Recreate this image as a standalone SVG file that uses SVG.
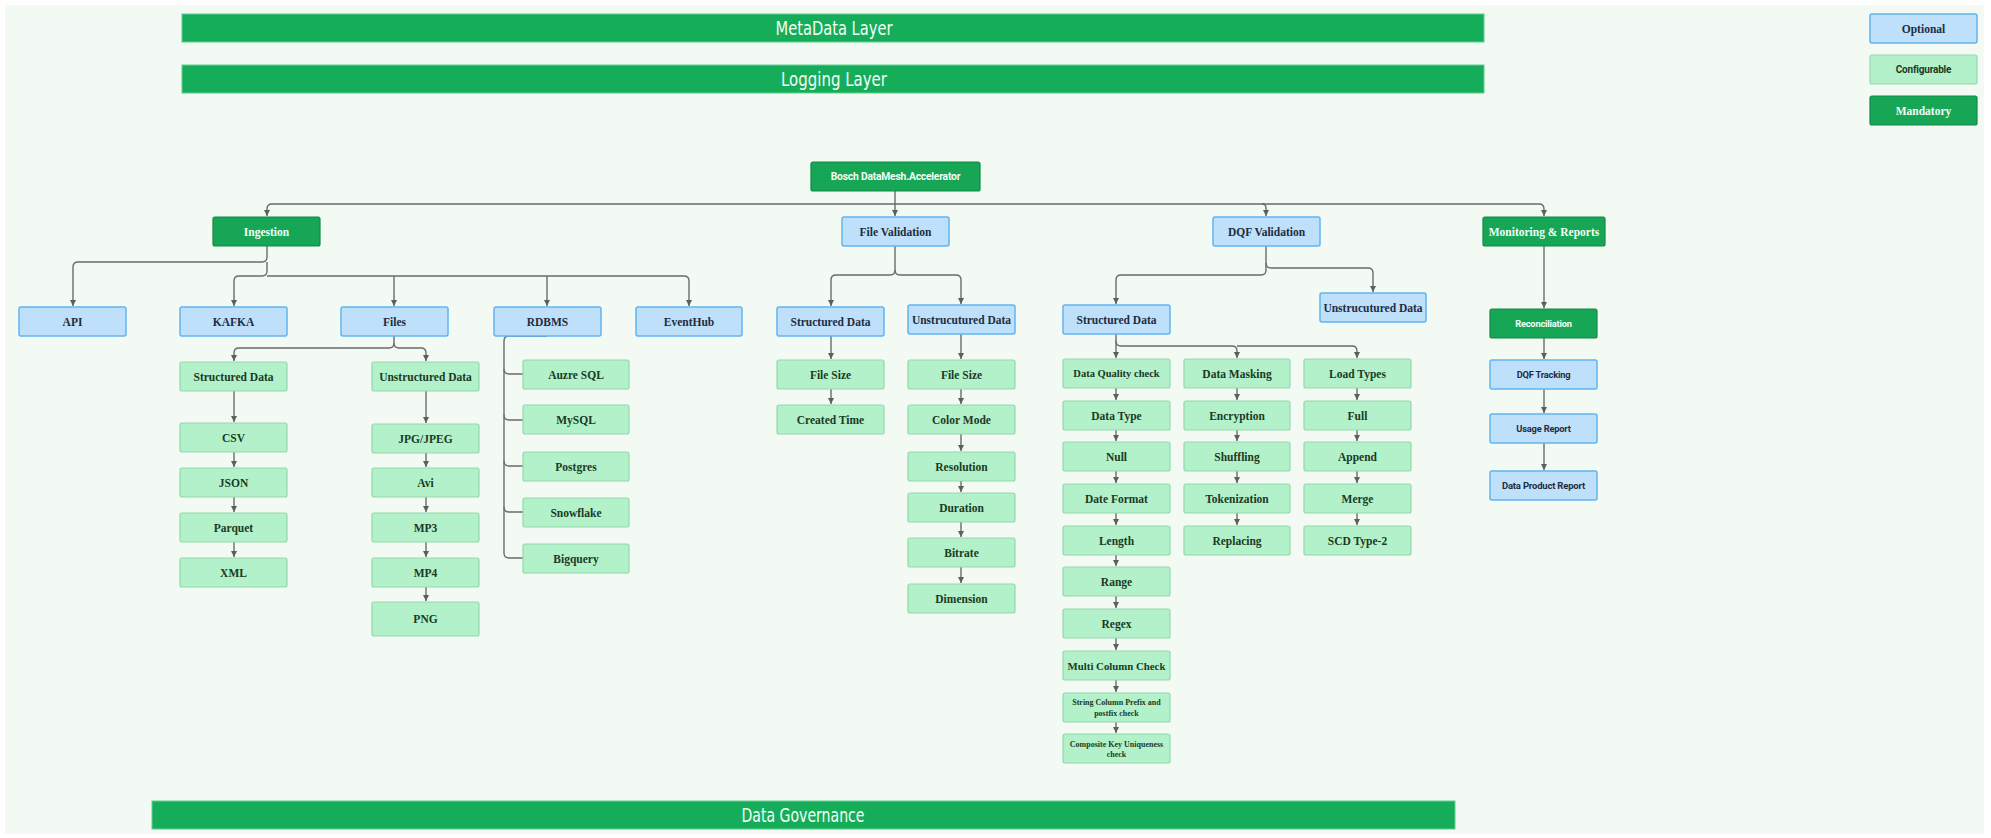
<svg xmlns="http://www.w3.org/2000/svg" width="1991" height="838" viewBox="0 0 1991 838">
<style>
.bar{fill:#16ad5a;stroke:#5cd08f;stroke-width:1}
.bt{font-family:"Liberation Sans Narrow","DejaVu Sans Condensed","Liberation Sans",sans-serif;font-size:20px;fill:#f2fff6;text-anchor:middle;dominant-baseline:central}
.man{fill:#17a656;stroke:#0f8a43;stroke-width:1.2}
.opt{fill:#bfe0fb;stroke:#62b4ef;stroke-width:1.5}
.cfg{fill:#b2f1c9;stroke:#93d9ac;stroke-width:1.2}
.t{font-family:"Liberation Serif","DejaVu Serif",serif;font-weight:700;font-size:11.5px;text-anchor:middle;dominant-baseline:central}
.s{font-family:Roboto,"Liberation Sans",sans-serif;font-weight:700;font-size:9.5px;text-anchor:middle;dominant-baseline:central;letter-spacing:-0.2px}
.w{fill:#f2fff5}
.b{fill:#1e2c40}
.g{fill:#1b3a25}
.c path{fill:none;stroke:#6b6b6b;stroke-width:1.4}
.c path.a{marker-end:url(#ah)}
</style>
<defs>
<marker id="ah" markerUnits="userSpaceOnUse" markerWidth="7" markerHeight="7" refX="6" refY="3.5" orient="auto">
<path d="M0,0.5 L6,3.5 L0,6.5 z" fill="#5e5e5e"/>
</marker>
</defs>
<rect x="0" y="0" width="1991" height="838" fill="#ffffff"/>
<rect x="5" y="5" width="1979" height="829" fill="#f3faf4"/>

<g id="metadata-layer"><rect class="bar" x="182" y="14" width="1302" height="28"/><text class="bt" x="834" y="28" textLength="117" lengthAdjust="spacingAndGlyphs">MetaData Layer</text></g>
<g id="logging-layer"><rect class="bar" x="182" y="65" width="1302" height="28"/><text class="bt" x="834" y="79" textLength="106" lengthAdjust="spacingAndGlyphs">Logging Layer</text></g>
<g id="data-governance"><rect class="bar" x="152" y="801" width="1303" height="28"/><text class="bt" x="803" y="815" textLength="123" lengthAdjust="spacingAndGlyphs">Data Governance</text></g>

<g id="legend-optional"><rect class="opt" x="1870" y="14" width="107" height="29" rx="2"/><text class="t b" x="1923.5" y="28.5">Optional</text></g>
<g id="legend-configurable"><rect class="cfg" x="1870" y="55" width="107" height="29" rx="2"/><text class="s g" x="1923.5" y="69.5" style="font-size:10px">Configurable</text></g>
<g id="legend-mandatory"><rect class="man" x="1870" y="96" width="107" height="29" rx="2"/><text class="t w" x="1923.5" y="110.5">Mandatory</text></g>

<g class="c" id="connectors">
<path class="a" d="M895 191 V216"/>
<path class="a" d="M895 204 H272 Q267 204 267 209 V216"/>
<path class="a" d="M895 204 H1539 Q1544 204 1544 209 V216"/>
<path class="a" d="M1262 204 Q1266 204 1266 208 V216"/>
<path class="a" d="M267 246 V257 Q267 262 262 262 H78 Q73 262 73 267 V306"/>
<path class="a" d="M267 262 V271 Q267 276 262 276 H239 Q234 276 234 281 V306"/>
<path class="a" d="M267 276 H684 Q689 276 689 281 V306"/>
<path class="a" d="M394 276 V306"/>
<path class="a" d="M547 276 V306"/>
<path class="a" d="M394 336 V343 Q394 348 389 348 H239 Q234 348 234 353 V361"/>
<path class="a" d="M394 343 Q394 348 399 348 H421 Q426 348 426 353 V361"/>
<path class="a" d="M234 391 V422"/>
<path class="a" d="M234 452 V467"/>
<path class="a" d="M234 497 V512"/>
<path class="a" d="M234 542 V557"/>
<path class="a" d="M426 391 V423"/>
<path class="a" d="M426 453 V467"/>
<path class="a" d="M426 497 V512"/>
<path class="a" d="M426 542 V557"/>
<path class="a" d="M426 587 V601"/>
<path d="M547 336 H509 Q504 336 504 341 V553 Q504 558 509 558 H523"/>
<path d="M504 369 Q504 374 509 374 H523"/>
<path d="M504 415 Q504 420 509 420 H523"/>
<path d="M504 461 Q504 466 509 466 H523"/>
<path d="M504 507 Q504 512 509 512 H523"/>
<path class="a" d="M895 246 V270 Q895 275 890 275 H836 Q831 275 831 280 V306"/>
<path class="a" d="M895 270 Q895 275 900 275 H956 Q961 275 961 280 V304"/>
<path class="a" d="M831 336 V359"/>
<path class="a" d="M831 389 V404"/>
<path class="a" d="M961 334 V359"/>
<path class="a" d="M961 389 V404"/>
<path class="a" d="M961 434 V451"/>
<path class="a" d="M961 480 V492"/>
<path class="a" d="M961 522 V537"/>
<path class="a" d="M961 567 V583"/>
<path class="a" d="M1266 246 V270 Q1266 275 1261 275 H1121 Q1116 275 1116 280 V304"/>
<path class="a" d="M1266 263 Q1266 268 1271 268 H1368 Q1373 268 1373 273 V292"/>
<path class="a" d="M1116 334 V358"/>
<path class="a" d="M1116 341 Q1116 346 1121 346 H1232 Q1237 346 1237 351 V358"/>
<path class="a" d="M1237 346 H1352 Q1357 346 1357 351 V358"/>
<path class="a" d="M1116 388 V400"/>
<path class="a" d="M1116 430 V441"/>
<path class="a" d="M1116 471 V483"/>
<path class="a" d="M1116 513 V525"/>
<path class="a" d="M1116 555 V566"/>
<path class="a" d="M1116 596 V608"/>
<path class="a" d="M1116 638 V650"/>
<path class="a" d="M1116 680 V692"/>
<path class="a" d="M1116 722 V733"/>
<path class="a" d="M1237 388 V400"/>
<path class="a" d="M1237 430 V441"/>
<path class="a" d="M1237 471 V483"/>
<path class="a" d="M1237 513 V525"/>
<path class="a" d="M1357 388 V400"/>
<path class="a" d="M1357 430 V441"/>
<path class="a" d="M1357 471 V483"/>
<path class="a" d="M1357 513 V525"/>
<path class="a" d="M1544 246 V308"/>
<path class="a" d="M1544 338 V359"/>
<path class="a" d="M1544 389 V413"/>
<path class="a" d="M1544 443 V470"/>
</g>

<g id="root"><rect class="man" x="811" y="162" width="169" height="29" rx="2"/><text class="s w" x="895.5" y="176.5" style="font-size:10.3px">Bosch DataMesh.Accelerator</text></g>

<g id="ingestion"><rect class="man" x="213" y="217" width="107" height="29" rx="2"/><text class="t w" x="266.5" y="231.5">Ingestion</text></g>
<g id="file-validation"><rect class="opt" x="842" y="217" width="107" height="29" rx="2"/><text class="t b" x="895.5" y="231.5">File Validation</text></g>
<g id="dqf-validation"><rect class="opt" x="1213" y="217" width="107" height="29" rx="2"/><text class="t b" x="1266.5" y="231.5">DQF Validation</text></g>
<g id="monitoring"><rect class="man" x="1483" y="217" width="122" height="29" rx="2"/><text class="t w" x="1544" y="231.5">Monitoring &amp; Reports</text></g>

<g id="api"><rect class="opt" x="19" y="307" width="107" height="29" rx="2"/><text class="t b" x="72.5" y="321.5">API</text></g>
<g id="kafka"><rect class="opt" x="180" y="307" width="107" height="29" rx="2"/><text class="t b" x="233.5" y="321.5">KAFKA</text></g>
<g id="files"><rect class="opt" x="341" y="307" width="107" height="29" rx="2"/><text class="t b" x="394.5" y="321.5">Files</text></g>
<g id="rdbms"><rect class="opt" x="494" y="307" width="107" height="29" rx="2"/><text class="t b" x="547.5" y="321.5">RDBMS</text></g>
<g id="eventhub"><rect class="opt" x="636" y="307" width="106" height="29" rx="2"/><text class="t b" x="689" y="321.5">EventHub</text></g>

<g id="files-structured"><rect class="cfg" x="180" y="362" width="107" height="29" rx="2"/><text class="t g" x="233.5" y="376.5">Structured Data</text></g>
<g id="files-unstructured"><rect class="cfg" x="372" y="362" width="107" height="29" rx="2"/><text class="t g" x="425.5" y="376.5">Unstructured Data</text></g>
<g id="csv"><rect class="cfg" x="180" y="423" width="107" height="29" rx="2"/><text class="t g" x="233.5" y="437.5">CSV</text></g>
<g id="json"><rect class="cfg" x="180" y="468" width="107" height="29" rx="2"/><text class="t g" x="233.5" y="482.5">JSON</text></g>
<g id="parquet"><rect class="cfg" x="180" y="513" width="107" height="29" rx="2"/><text class="t g" x="233.5" y="527.5">Parquet</text></g>
<g id="xml"><rect class="cfg" x="180" y="558" width="107" height="29" rx="2"/><text class="t g" x="233.5" y="572.5">XML</text></g>
<g id="jpg"><rect class="cfg" x="372" y="424" width="107" height="29" rx="2"/><text class="t g" x="425.5" y="438.5">JPG/JPEG</text></g>
<g id="avi"><rect class="cfg" x="372" y="468" width="107" height="29" rx="2"/><text class="t g" x="425.5" y="482.5">Avi</text></g>
<g id="mp3"><rect class="cfg" x="372" y="513" width="107" height="29" rx="2"/><text class="t g" x="425.5" y="527.5">MP3</text></g>
<g id="mp4"><rect class="cfg" x="372" y="558" width="107" height="29" rx="2"/><text class="t g" x="425.5" y="572.5">MP4</text></g>
<g id="png"><rect class="cfg" x="372" y="602" width="107" height="34" rx="2"/><text class="t g" x="425.5" y="619">PNG</text></g>

<g id="azure-sql"><rect class="cfg" x="523" y="360" width="106" height="29" rx="2"/><text class="t g" x="576" y="374.5">Auzre SQL</text></g>
<g id="mysql"><rect class="cfg" x="523" y="405" width="106" height="29" rx="2"/><text class="t g" x="576" y="419.5">MySQL</text></g>
<g id="postgres"><rect class="cfg" x="523" y="452" width="106" height="29" rx="2"/><text class="t g" x="576" y="466.5">Postgres</text></g>
<g id="snowflake"><rect class="cfg" x="523" y="498" width="106" height="29" rx="2"/><text class="t g" x="576" y="512.5">Snowflake</text></g>
<g id="bigquery"><rect class="cfg" x="523" y="544" width="106" height="29" rx="2"/><text class="t g" x="576" y="558.5">Bigquery</text></g>

<g id="fv-structured"><rect class="opt" x="777" y="307" width="107" height="29" rx="2"/><text class="t b" x="830.5" y="321.5">Structured Data</text></g>
<g id="fv-unstructured"><rect class="opt" x="908" y="305" width="107" height="29" rx="2"/><text class="t b" x="961.5" y="319.5">Unstrucutured Data</text></g>
<g id="fv-s-filesize"><rect class="cfg" x="777" y="360" width="107" height="29" rx="2"/><text class="t g" x="830.5" y="374.5">File Size</text></g>
<g id="fv-s-created"><rect class="cfg" x="777" y="405" width="107" height="29" rx="2"/><text class="t g" x="830.5" y="419.5">Created Time</text></g>
<g id="fv-u-filesize"><rect class="cfg" x="908" y="360" width="107" height="29" rx="2"/><text class="t g" x="961.5" y="374.5">File Size</text></g>
<g id="fv-u-color"><rect class="cfg" x="908" y="405" width="107" height="29" rx="2"/><text class="t g" x="961.5" y="419.5">Color Mode</text></g>
<g id="fv-u-resolution"><rect class="cfg" x="908" y="452" width="107" height="29" rx="2"/><text class="t g" x="961.5" y="466.5">Resolution</text></g>
<g id="fv-u-duration"><rect class="cfg" x="908" y="493" width="107" height="29" rx="2"/><text class="t g" x="961.5" y="507.5">Duration</text></g>
<g id="fv-u-bitrate"><rect class="cfg" x="908" y="538" width="107" height="29" rx="2"/><text class="t g" x="961.5" y="552.5">Bitrate</text></g>
<g id="fv-u-dimension"><rect class="cfg" x="908" y="584" width="107" height="29" rx="2"/><text class="t g" x="961.5" y="598.5">Dimension</text></g>

<g id="dqf-structured"><rect class="opt" x="1063" y="305" width="107" height="29" rx="2"/><text class="t b" x="1116.5" y="319.5">Structured Data</text></g>
<g id="dqf-unstructured"><rect class="opt" x="1320" y="293" width="106" height="29" rx="2"/><text class="t b" x="1373" y="307.5">Unstrucutured Data</text></g>

<g id="dq-check"><rect class="cfg" x="1063" y="359" width="107" height="29" rx="2"/><text class="t g" x="1116.5" y="373.5" style="font-size:10.5px">Data Quality check</text></g>
<g id="data-type"><rect class="cfg" x="1063" y="401" width="107" height="29" rx="2"/><text class="t g" x="1116.5" y="415.5">Data Type</text></g>
<g id="null"><rect class="cfg" x="1063" y="442" width="107" height="29" rx="2"/><text class="t g" x="1116.5" y="456.5">Null</text></g>
<g id="date-format"><rect class="cfg" x="1063" y="484" width="107" height="29" rx="2"/><text class="t g" x="1116.5" y="498.5">Date Format</text></g>
<g id="length"><rect class="cfg" x="1063" y="526" width="107" height="29" rx="2"/><text class="t g" x="1116.5" y="540.5">Length</text></g>
<g id="range"><rect class="cfg" x="1063" y="567" width="107" height="29" rx="2"/><text class="t g" x="1116.5" y="581.5">Range</text></g>
<g id="regex"><rect class="cfg" x="1063" y="609" width="107" height="29" rx="2"/><text class="t g" x="1116.5" y="623.5">Regex</text></g>
<g id="multi-column"><rect class="cfg" x="1063" y="651" width="107" height="29" rx="2"/><text class="t g" x="1116.5" y="665.5" style="font-size:10.8px">Multi Column Check</text></g>
<g id="string-column"><rect class="cfg" x="1063" y="693" width="107" height="29" rx="2"/><text class="t g" style="font-size:8px"><tspan x="1116.5" y="702">String Column Prefix and</tspan><tspan x="1116.5" y="712.5">postfix check</tspan></text></g>
<g id="composite-key"><rect class="cfg" x="1063" y="734" width="107" height="29" rx="2"/><text class="t g" style="font-size:8px"><tspan x="1116.5" y="743.5">Composite Key Uniqueness</tspan><tspan x="1116.5" y="754">check</tspan></text></g>

<g id="data-masking"><rect class="cfg" x="1184" y="359" width="106" height="29" rx="2"/><text class="t g" x="1237" y="373.5">Data Masking</text></g>
<g id="encryption"><rect class="cfg" x="1184" y="401" width="106" height="29" rx="2"/><text class="t g" x="1237" y="415.5">Encryption</text></g>
<g id="shuffling"><rect class="cfg" x="1184" y="442" width="106" height="29" rx="2"/><text class="t g" x="1237" y="456.5">Shuffling</text></g>
<g id="tokenization"><rect class="cfg" x="1184" y="484" width="106" height="29" rx="2"/><text class="t g" x="1237" y="498.5">Tokenization</text></g>
<g id="replacing"><rect class="cfg" x="1184" y="526" width="106" height="29" rx="2"/><text class="t g" x="1237" y="540.5">Replacing</text></g>

<g id="load-types"><rect class="cfg" x="1304" y="359" width="107" height="29" rx="2"/><text class="t g" x="1357.5" y="373.5">Load Types</text></g>
<g id="full"><rect class="cfg" x="1304" y="401" width="107" height="29" rx="2"/><text class="t g" x="1357.5" y="415.5">Full</text></g>
<g id="append"><rect class="cfg" x="1304" y="442" width="107" height="29" rx="2"/><text class="t g" x="1357.5" y="456.5">Append</text></g>
<g id="merge"><rect class="cfg" x="1304" y="484" width="107" height="29" rx="2"/><text class="t g" x="1357.5" y="498.5">Merge</text></g>
<g id="scd2"><rect class="cfg" x="1304" y="526" width="107" height="29" rx="2"/><text class="t g" x="1357.5" y="540.5">SCD Type-2</text></g>

<g id="reconciliation"><rect class="man" x="1490" y="309" width="107" height="29" rx="2"/><text class="s w" x="1543.5" y="323.5" style="font-size:9.3px">Reconciliation</text></g>
<g id="dqf-tracking"><rect class="opt" x="1490" y="360" width="107" height="29" rx="2"/><text class="s b" x="1543.5" y="374.5" style="font-size:9.3px">DQF Tracking</text></g>
<g id="usage-report"><rect class="opt" x="1490" y="414" width="107" height="29" rx="2"/><text class="s b" x="1543.5" y="428.5" style="font-size:9.3px">Usage Report</text></g>
<g id="data-product-report"><rect class="opt" x="1490" y="471" width="107" height="29" rx="2"/><text class="s b" x="1543.5" y="485.5" style="font-size:9.5px">Data Product Report</text></g>
</svg>
